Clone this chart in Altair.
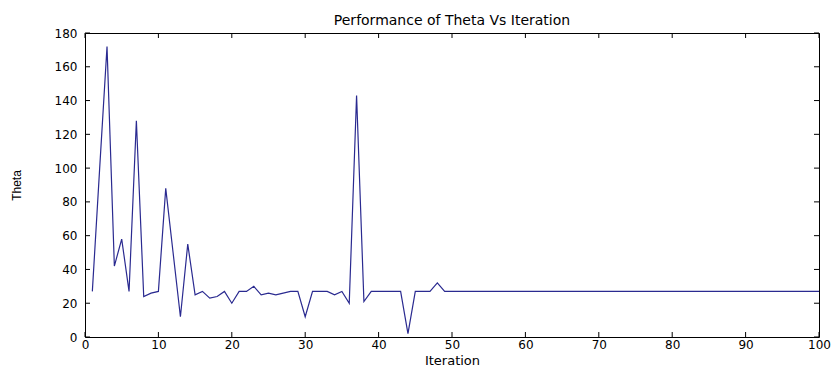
import altair as alt
import pandas as pd

iterations = list(range(1, 101))
theta_head = [27, 100, 172, 42, 58, 27, 128, 24, 26, 27,
              88, 50, 12, 55, 25, 27, 23, 24, 27, 20,
              27, 27, 30, 25, 26, 25, 26, 27, 27, 12,
              27, 27, 27, 25, 27, 20, 143, 21, 27, 27,
              27, 27, 27, 2, 27, 27, 27, 32]
theta_tail = [27] * 52
theta = theta_head + theta_tail

x_ticks = list(range(0, 101, 10))
y_ticks = list(range(0, 181, 20))

df = pd.DataFrame({"Iteration": iterations, "Theta": theta})
xt_df = pd.DataFrame({"Iteration": x_ticks})
yt_df = pd.DataFrame({"Theta": y_ticks})

W, H = 734, 304
TICK = 5
LINE = "#2a2a90"
FONT = "DejaVu Sans"

xs = alt.Scale(domain=[0, 100], nice=False, zero=False)
ys = alt.Scale(domain=[0, 180], nice=False)

x_axis = alt.Axis(
    orient="bottom", values=x_ticks, ticks=False, domain=False, grid=False,
    labelFont=FONT, labelFontSize=12, labelColor="black", labelPadding=2,
    labelFlush=False, labelOverlap=False,
    title="Iteration", titleFont=FONT, titleFontSize=13, titleFontWeight="normal",
    titleColor="black", titleY=27, titleBaseline="alphabetic")
y_axis = alt.Axis(
    orient="left", values=y_ticks, ticks=False, domain=False, grid=False,
    labelFont=FONT, labelFontSize=12, labelColor="black", labelPadding=8,
    labelFlush=False, labelOverlap=False,
    title="Theta", titleFont="Liberation Sans",
    titleFontSize=12, titleFontWeight="normal", titleColor="black",
    titleX=-62, titleY=152)

line = alt.Chart(df).mark_line(color=LINE, strokeWidth=1.2).encode(
    x=alt.X("Iteration:Q", scale=xs, axis=x_axis, title="Iteration"),
    y=alt.Y("Theta:Q", scale=ys, axis=y_axis, title="Theta"),
)

tick_x_bottom = alt.Chart(xt_df).mark_rule(color="black", strokeWidth=1).encode(
    x=alt.X("Iteration:Q", scale=xs, axis=x_axis, title="Iteration"),
    y=alt.value(H), y2=alt.value(H - TICK))
tick_x_top = alt.Chart(xt_df).mark_rule(color="black", strokeWidth=1).encode(
    x=alt.X("Iteration:Q", scale=xs, axis=x_axis, title="Iteration"),
    y=alt.value(0), y2=alt.value(TICK))
tick_y_left = alt.Chart(yt_df).mark_rule(color="black", strokeWidth=1).encode(
    y=alt.Y("Theta:Q", scale=ys, axis=y_axis, title="Theta"),
    x=alt.value(0), x2=alt.value(TICK))
tick_y_right = alt.Chart(yt_df).mark_rule(color="black", strokeWidth=1).encode(
    y=alt.Y("Theta:Q", scale=ys, axis=y_axis, title="Theta"),
    x=alt.value(W), x2=alt.value(W - TICK))

chart = (
    alt.layer(line, tick_x_bottom, tick_x_top, tick_y_left, tick_y_right)
    .properties(
        width=W, height=H,
        padding={"left": 77, "top": 25, "right": 13, "bottom": 30},
        autosize=alt.AutoSizeParams(type="none"),
        title=alt.Title("Performance of Theta Vs Iteration", font=FONT, fontSize=14,
                        fontWeight="normal", color="black", anchor="middle", offset=-1),
        background="white",
    )
    .configure_view(stroke="black", strokeWidth=1)
)

chart.save("out.html", embed_options={"renderer": "svg", "actions": False})
